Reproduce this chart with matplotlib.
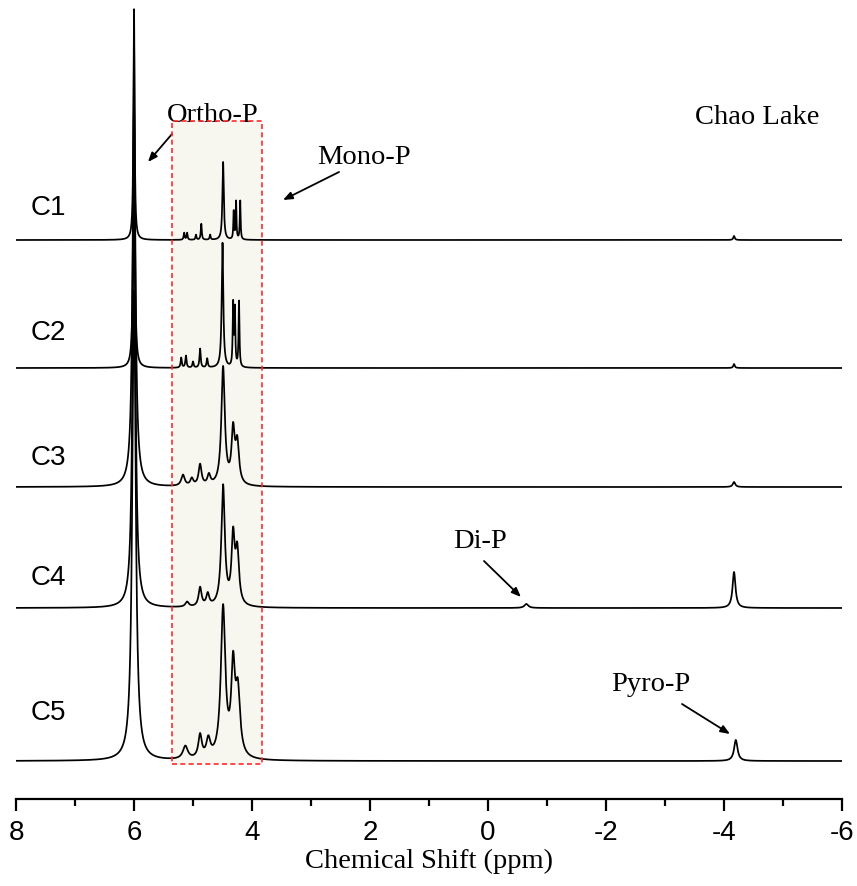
import numpy as np
import matplotlib
matplotlib.use("Agg")
import matplotlib.pyplot as plt
from matplotlib.patches import Rectangle

# ---------------- data ----------------
sample_names = ["C1", "C2", "C3", "C4", "C5"]

# peak lists per spectrum: positions (ppm), heights (a.u.), half widths (ppm)
C1_pos = [6.00, 5.15, 5.10, 4.95, 4.86, 4.71, 4.49, 4.31, 4.27, 4.20, -4.17]
C1_hgt = [231, 7, 7, 5, 16, 5, 78, 28, 38, 39, 4]
C1_wid = [0.012, 0.010, 0.010, 0.010, 0.010, 0.010, 0.014, 0.008, 0.008, 0.008, 0.015]

C2_pos = [6.00, 5.20, 5.12, 5.00, 4.88, 4.76, 4.50, 4.32, 4.29, 4.22, -4.17]
C2_hgt = [330, 10, 12, 6, 19, 9, 125, 62, 57, 66, 4]
C2_wid = [0.014, 0.012, 0.012, 0.012, 0.012, 0.012, 0.016, 0.009, 0.009, 0.009, 0.015]

C3_pos = [6.00, 5.17, 5.02, 4.88, 4.73, 4.49, 4.32, 4.25, -4.17]
C3_hgt = [380, 11, 7, 21, 10, 118, 52, 40, 5]
C3_wid = [0.030, 0.035, 0.030, 0.030, 0.030, 0.035, 0.032, 0.035, 0.025]

C4_pos = [6.00, 5.10, 4.88, 4.75, 4.49, 4.32, 4.25, -0.65, -4.17]
C4_hgt = [420, 5, 19, 12, 120, 66, 52, 4, 36]
C4_wid = [0.030, 0.035, 0.030, 0.030, 0.035, 0.032, 0.035, 0.040, 0.030]

C5_pos = [6.00, 5.13, 4.88, 4.74, 4.49, 4.32, 4.24, -4.20]
C5_hgt = [470, 13, 23, 18, 150, 85, 62, 21]
C5_wid = [0.035, 0.050, 0.035, 0.040, 0.045, 0.038, 0.045, 0.035]

peak_tables = [
    (C1_pos, C1_hgt, C1_wid),
    (C2_pos, C2_hgt, C2_wid),
    (C3_pos, C3_hgt, C3_wid),
    (C4_pos, C4_hgt, C4_wid),
    (C5_pos, C5_hgt, C5_wid),
]

x_ticks_major = [8, 6, 4, 2, 0, -2, -4, -6]
mono_region = (5.36, 3.83)

# ---------------- layout / styles ----------------
offsets = [559, 431, 312, 191, 38]
SERIF = ["Liberation Serif", "DejaVu Serif"]
SANS = ["Liberation Sans", "DejaVu Sans"]

W, H = 857, 887
fig = plt.figure(figsize=(W / 100, H / 100), dpi=100)
ax = fig.add_axes([16 / W, 87 / H, 826 / W, 800 / H])
ax.set_xlim(8, -6)
ax.set_ylim(0, 800)

x = np.linspace(8, -6, 5600)


def spectrum(pos, hgt, wid):
    y = np.zeros_like(x)
    for p, h, g in zip(pos, hgt, wid):
        y += h * g * g / ((x - p) ** 2 + g * g)
    return y


# box for the mono-P region
ax.add_patch(Rectangle((mono_region[0], 35), mono_region[1] - mono_region[0], 643,
                       facecolor="#f7f7f0", edgecolor="none", zorder=0))
ax.add_patch(Rectangle((mono_region[0], 35), mono_region[1] - mono_region[0], 643,
                       facecolor="none", edgecolor="#ff2a2a", lw=1.2,
                       linestyle=(0, (3, 2)), zorder=5))

for name, (pos, hgt, wid), off in zip(sample_names, peak_tables, offsets):
    ax.plot(x, off + spectrum(pos, hgt, wid), color="black", lw=1.25, zorder=3)

# sample labels
label_y = [592, 467, 342, 222, 87]
for name, ly in zip(sample_names, label_y):
    ax.text(7.76, ly, name, family=SANS, fontsize=20, ha="left", va="center")

# annotations
arrow = dict(arrowstyle="-|>,head_length=0.55,head_width=0.22", color="black",
             lw=1.3, shrinkA=0, shrinkB=0)
ax.text(5.44, 684, "Ortho-P", family=SERIF, fontsize=20.5, ha="left", va="center")
ax.annotate("", xy=(5.763, 637), xytext=(5.356, 665), arrowprops=arrow)

ax.text(2.898, 643, "Mono-P", family=SERIF, fontsize=20.5, ha="left", va="center")
ax.annotate("", xy=(3.475, 599), xytext=(2.525, 627), arrowprops=arrow)

ax.text(-3.508, 682, "Chao Lake", family=SERIF, fontsize=20.5, ha="left", va="center")

ax.text(0.136, 258, "Di-P", family=SERIF, fontsize=20.5, ha="center", va="center")
ax.annotate("", xy=(-0.559, 202), xytext=(0.068, 238), arrowprops=arrow)

ax.text(-3.424, 115, "Pyro-P", family=SERIF, fontsize=20.5, ha="right", va="center")
ax.annotate("", xy=(-4.102, 65), xytext=(-3.288, 95), arrowprops=arrow)

# axes styling
for s in ["left", "right", "top"]:
    ax.spines[s].set_visible(False)
ax.spines["bottom"].set_linewidth(1.6)
ax.set_yticks([])
ax.set_xticks(x_ticks_major)
ax.set_xticks(np.arange(-5, 8, 2), minor=True)
ax.set_xticklabels([str(t) for t in x_ticks_major], family=SANS, fontsize=20)
ax.tick_params(axis="x", which="major", direction="out", length=8.5, width=1.6, pad=6)
ax.tick_params(axis="x", which="minor", direction="out", length=5, width=1.6)
ax.set_xlabel("Chemical Shift (ppm)", family=SERIF, fontsize=20.5, labelpad=2)

fig.savefig("out.png", dpi=100)
